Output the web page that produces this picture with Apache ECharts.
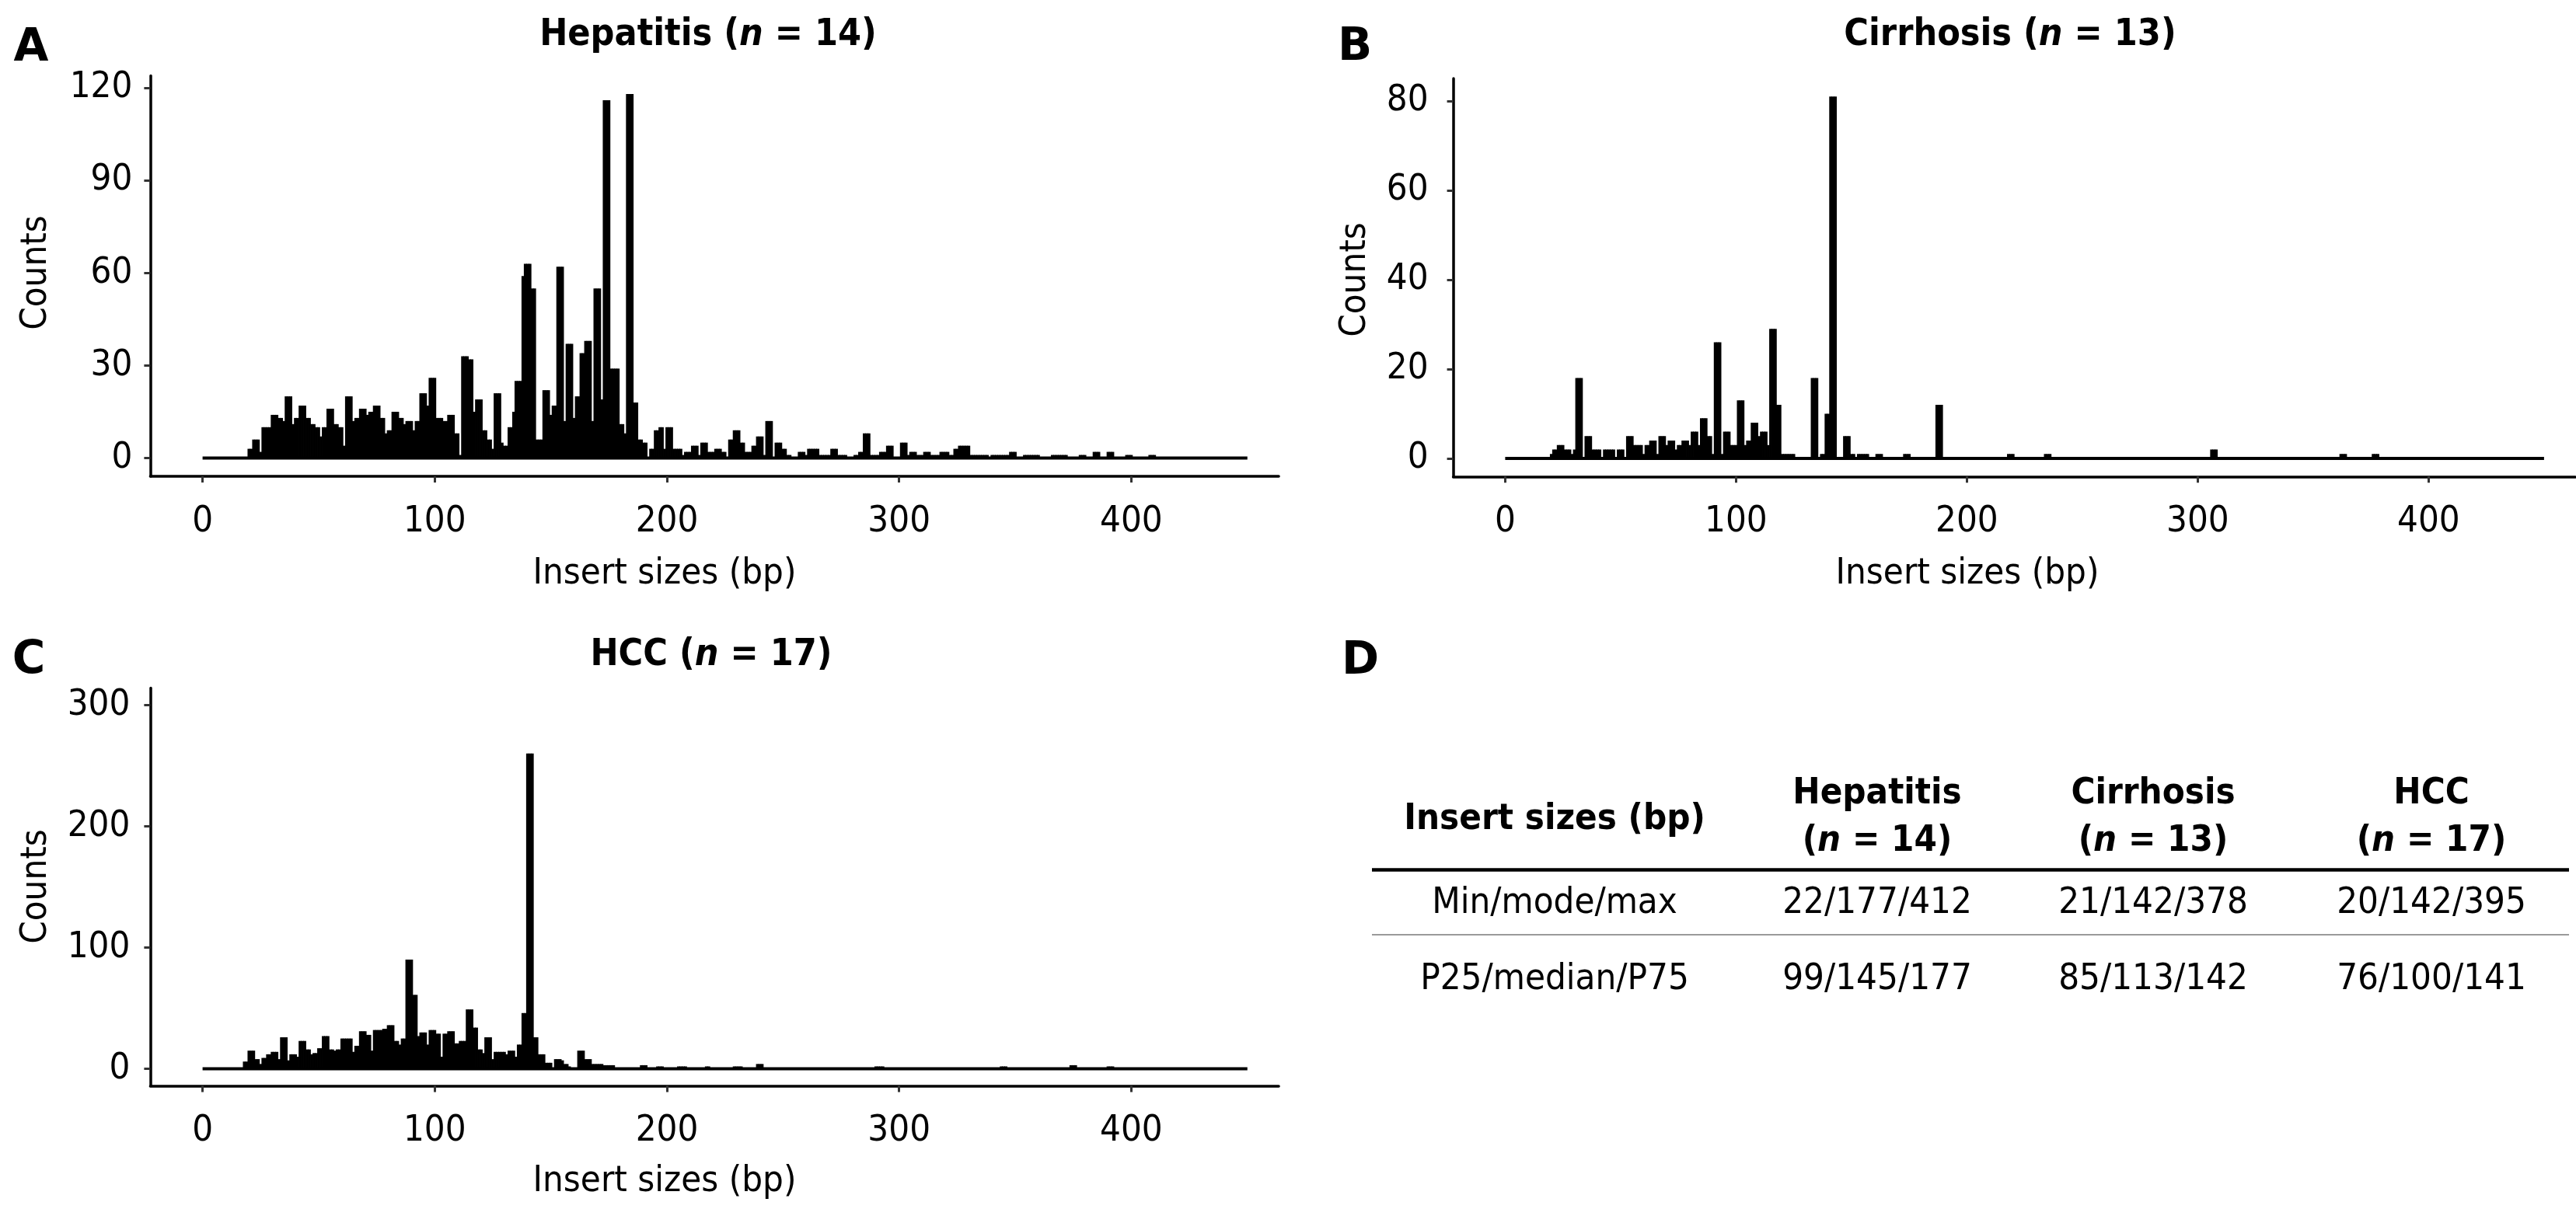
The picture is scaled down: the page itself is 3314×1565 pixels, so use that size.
<!DOCTYPE html>
<html>
<head>
<meta charset="utf-8">
<script src="https://cdn.jsdelivr.net/npm/echarts@6/dist/echarts.min.js"></script>
<style>
html,body{margin:0;padding:0;background:#fff;}
#chart{width:3314px;height:1565px;}
</style>
</head>
<body>
<div id="chart"></div>
<script>
// ---------------- DATA ----------------
const xTickValues = [0, 100, 200, 300, 400];
const baselineSpan = [0, 450];

const hepatitisTitle = 'Hepatitis', hepatitisN = 14;
const hepatitisStart = 20;
const hepatitisCounts = [3,3, 6,6,6, 2, 10,10,10,10, 14,14,14, 13,13, 12, 20,20,20, 11, 13,13, 17,17,17, 13,13, 11,11, 10,10, 7, 10,10, 16,16,16, 11,11, 10,10, 4, 20,20,20, 12, 13,13, 16,16,16, 14, 15,15, 17,17,17, 13,13, 8, 9,9, 15,15,15, 13,13, 11, 12,12,12, 9, 12,12, 21,21,21, 17, 26,26,26, 13,13,13, 12,12, 14,14,14, 8,8, 1, 33,33,33, 32,32, 15, 19,19,19, 9,9, 6,6, 3, 21,21,21, 5, 4,4, 10,10, 15, 25,25,25, 59, 63,63,63, 55,55, 6,6,6, 22,22,22, 14, 17,17, 62,62,62, 12, 37,37,37, 13, 20,20, 34,34, 38,38,38, 12, 55,55,55, 19, 116,116,116, 29,29,29,29, 11,11, 8, 118,118,118, 18,18, 6,6, 5,5, 0, 3,3, 9,9, 10,10, 3, 10,10,10, 3,3,3,3, 1, 2,2,2, 4,4,4, 1, 5,5,5, 2,2,2, 3,3,3, 2,2, 0, 6,6, 9,9,9, 5,5, 2,2,2, 4,4, 7,7,7, 1, 12,12,12, 0, 5,5,5, 3,3, 1,1, 0,0,0, 2,2,2, 1, 3,3,3,3,3, 1,1,1,1,1, 3,3,3, 1,1,1,1, 0,0,0, 1,1, 2,2, 8,8,8, 1,1,1,1, 2,2,2, 4,4,4, 0,0,0, 5,5,5, 1, 2,2,2, 1,1,1, 2,2,2, 1,1,1,1, 2,2,2,2, 1,1, 3,3, 4,4,4,4,4, 1,1,1,1,1,1,1,1, 0, 1,1,1,1,1,1,1,1, 2,2,2, 0,0,0, 1,1,1,1,1,1,1, 0,0,0,0,0, 1,1,1,1,1,1,1, 0,0,0,0,0, 1,1,1, 0,0,0, 2,2,2, 0,0,0, 2,2,2, 0,0,0,0,0, 1,1,1, 0,0,0,0,0,0,0, 1,1,1];
const hepatitisYTicks = [0, 30, 60, 90, 120];

const cirrhosisTitle = 'Cirrhosis', cirrhosisN = 13;
const cirrhosisStart = 20;
const cirrhosisCounts = [1, 2,2, 3,3,3, 2,2,2, 1, 2, 18,18,18, 0, 5,5,5, 2,2,2,2, 0, 2,2,2,2,2, 0, 2,2,2, 0, 5,5,5, 3,3,3,3, 1, 3,3, 4,4,4, 1, 5,5,5, 3, 4,4,4, 2, 3,3, 4,4,4, 3, 6,6,6, 3, 9,9,9, 5,5, 1, 26,26,26, 1, 6,6,6, 3,3,3, 13,13,13, 3, 4,4, 8,8,8, 5, 6,6,6, 3, 29,29,29, 12,12, 1,1,1,1,1,1, 0,0,0,0,0,0,0, 18,18,18, 0, 1,1, 10,10, 81,81,81, 0,0,0, 5,5,5, 1,1, 0, 1,1,1,1,1, 0,0,0, 1,1,1, 0,0,0,0,0,0,0,0,0, 1,1,1, 0,0,0,0,0,0,0,0,0,0,0, 12,12,12,
  0,0,0,0,0,0,0,0,0,0, 0,0,0,0,0,0,0,0,0,0, 0,0,0,0,0,0,0,0, 1,1,1,
  0,0,0,0,0,0,0,0,0,0, 0,0,0, 1,1,1,
  0,0,0,0,0,0,0,0,0,0, 0,0,0,0,0,0,0,0,0,0, 0,0,0,0,0,0,0,0,0,0, 0,0,0,0,0,0,0,0,0,0, 0,0,0,0,0,0,0,0,0,0, 0,0,0,0,0,0,0,0,0,0, 0,0,0,0,0,0,0,0,0, 2,2,2,
  0,0,0,0,0,0,0,0,0,0, 0,0,0,0,0,0,0,0,0,0, 0,0,0,0,0,0,0,0,0,0, 0,0,0,0,0,0,0,0,0,0, 0,0,0,0,0,0,0,0,0,0, 0,0,0, 1,1,1,
  0,0,0,0,0,0,0,0,0,0, 0, 1,1,1];
const cirrhosisYTicks = [0, 20, 40, 60, 80];

const hccTitle = 'HCC', hccN = 17;
const hccStart = 18;
const hccCounts = [6,6, 15,15,15, 8,8, 4, 9,9, 12,12, 14,14,14, 8, 26,26,26, 7, 12,12,12, 10, 23,23,23, 16,16, 12, 13,13, 17,17, 27,27,27, 16,16, 15, 16,16, 25,25,25,25,25, 14, 19,19, 31,31,31, 28,28, 15, 32,32,32,32, 33,33, 36,36,36, 23,23, 20, 25,25, 90,90,90, 61,61, 27, 30,30,30, 20, 32,32,32, 29,29, 10, 29,29, 31,31,31, 21,21, 23,23,23, 49,49,49, 34,34, 16,16, 13, 26,26,26, 8, 14,14,14,14,14, 12, 15,15,15, 10, 20,20, 46,46, 260,260,260, 26,26, 12,12,12, 5,5,5, 1, 8,8,8, 7, 4,4, 2, 1,1,1, 15,15,15, 8,8,8, 4,4,4,4,4, 3,3,3,3,3, 1,1,1,1,1, 0,0,0,0, 1,1, 3,3,3, 0,0,0,0, 2,2,2, 0, 1,1,1,1,1, 2,2,2,2, 0,0,0,0,0,0,0,0, 2,2, 1,1,1, 0,0,0,0,0,0,0, 2,2,2,2, 1,1,1,1,1, 0, 4,4,4, 0,0,0, 1,1,1,1,1, 0,0,0, 1,1,1, 0,0,0, 1,1,1,
  0,0,0,0,0,0,0,0,0,0, 0,0,0,0,0,0,0,0,0,0, 0, 1,1,1,1,1,1,1, 2,2,2,2, 1,1,1,1, 0,0,0,0, 1,1,1,1, 0,0, 1,1,1,1,
  0,0,0,0,0,0,0,0,0,0, 0,0,0,0,0,0,0,0,0,0, 1,1,1, 0,0,0,0,0,0,0, 1,1, 2,2,2, 0,0,0,0,0,0,0,0,0, 1,1,1, 0, 1,1,1,1, 0,0,0,0,0,0,0,0, 1,1, 3,3,3,
  0,0,0,0,0,0,0,0,0,0, 0,0,0, 2,2,2];
const hccYTicks = [0, 100, 200, 300];

const xAxisName = 'Insert sizes (bp)';
const yAxisName = 'Counts';
const panelLetters = ['A', 'B', 'C', 'D'];

const tableCorner = 'Insert sizes (bp)';
const tableGroups = ['Hepatitis', 'Cirrhosis', 'HCC'];
const tableGroupN = [14, 13, 17];
const tableRowLabels = ['Min/mode/max', 'P25/median/P75'];
const tableValues = [
  ['22/177/412', '21/142/378', '20/142/395'],
  ['99/145/177', '85/113/142', '76/100/141']
];

// ---------------- LAYOUT / STYLE ----------------
const FONT = "'DejaVu Sans Condensed', 'DejaVu Sans', sans-serif";
const FS = 47;
const X_MIN = -22.5, X_MAX = 463.5;

const panels = [
  {title: hepatitisTitle, n: hepatitisN, start: hepatitisStart, counts: hepatitisCounts, yTicks: hepatitisYTicks,
   x0: 260.6, ppb: 2.987, y0: 589.5, ppc: 3.97, ymin: -5.9, ymax: 123.9, labelGap: 23,
   titleX: 911, titleY: 46, letter: panelLetters[0], letterX: 40, letterY: 63,
   xNameX: 855, xNameY: 739, yNameX: 47, yNameY: 351},
  {title: cirrhosisTitle, n: cirrhosisN, start: cirrhosisStart, counts: cirrhosisCounts, yTicks: cirrhosisYTicks,
   x0: 1936.4, ppb: 2.97, y0: 590, ppc: 5.75, ymin: -4.05, ymax: 85.05, labelGap: 32,
   titleX: 2586, titleY: 46, letter: panelLetters[1], letterX: 1743, letterY: 62,
   xNameX: 2531, xNameY: 739, yNameX: 1744, yNameY: 360},
  {title: hccTitle, n: hccN, start: hccStart, counts: hccCounts, yTicks: hccYTicks,
   x0: 260.6, ppb: 2.987, y0: 1375.6, ppc: 1.561, ymin: -14.1, ymax: 314, labelGap: 26,
   titleX: 915, titleY: 844, letter: panelLetters[2], letterX: 37, letterY: 851,
   xNameX: 855, xNameY: 1521, yNameX: 47, yNameY: 1141}
];
const X_LABEL_OFFSET = 58.5;

const grids = [], xAxes = [], yAxes = [], series = [], graphics = [];

function renderBar(params, api) {
  const x = api.value(0), y = api.value(1);
  if (!y) return null;
  const p0 = api.coord([x - 0.5, 0]);
  const p1 = api.coord([x + 0.5, y]);
  return {
    type: 'rect',
    shape: {x: p0[0] - 0.4, y: p1[1], width: p1[0] - p0[0] + 0.8, height: p0[1] - p1[1]},
    style: {fill: '#000'}
  };
}

function textEl(x, y, text, opts) {
  opts = opts || {};
  const fs = opts.fs || FS;
  const align = opts.align || 'center';
  const style = {
    text: text, fontFamily: opts.family || FONT, fontSize: fs,
    fontWeight: opts.bold ? 'bold' : 'normal', fill: '#000',
    align: align, verticalAlign: 'middle', textAlign: align, textVerticalAlign: 'middle'
  };
  if (opts.rich) {
    style.rich = {i: {fontFamily: FONT, fontSize: fs, fontWeight: opts.bold ? 'bold' : 'normal', fontStyle: 'italic', fill: '#000'}};
  }
  const el = {type: 'text', x: x, y: y, silent: true, style: style};
  if (opts.rotation) el.rotation = opts.rotation;
  return el;
}

panels.forEach((p, i) => {
  p.left = p.x0 + X_MIN * p.ppb;
  p.width = (X_MAX - X_MIN) * p.ppb;
  p.top = p.y0 - p.ymax * p.ppc;
  p.height = (p.ymax - p.ymin) * p.ppc;
  grids.push({left: p.left, top: p.top, width: p.width, height: p.height, containLabel: false});
  const axisLine = {show: true, onZero: false, lineStyle: {color: '#000', width: 3.5}};
  xAxes.push({
    type: 'value', gridIndex: i, min: X_MIN, max: X_MAX,
    axisLine: axisLine, splitLine: {show: false},
    axisTick: {show: true, length: 8, lineStyle: {color: '#333', width: 3}, customValues: xTickValues},
    axisLabel: {show: false}
  });
  yAxes.push({
    type: 'value', gridIndex: i, min: p.ymin, max: p.ymax,
    axisLine: axisLine, splitLine: {show: false},
    axisTick: {show: true, length: 8, lineStyle: {color: '#333', width: 3}, customValues: p.yTicks},
    axisLabel: {show: false}
  });
  series.push({
    type: 'line', xAxisIndex: i, yAxisIndex: i, silent: true, symbol: 'none', z: 1,
    lineStyle: {color: '#000', width: 4}, data: [[baselineSpan[0], 0], [baselineSpan[1], 0]]
  });
  series.push({
    type: 'custom', xAxisIndex: i, yAxisIndex: i, silent: true, z: 2,
    renderItem: renderBar, encode: {x: 0, y: 1},
    data: p.counts.map((c, k) => [p.start + k, c])
  });
  graphics.push(textEl(p.titleX, p.titleY, p.title + ' ({i|n} = ' + p.n + ')', {bold: true, rich: true, fs: 48}));
  graphics.push(textEl(p.letterX, p.letterY, p.letter, {bold: true, fs: 58, family: "'DejaVu Sans', sans-serif"}));
  graphics.push(textEl(p.xNameX, p.xNameY, xAxisName));
  graphics.push(textEl(p.yNameX, p.yNameY, yAxisName, {rotation: Math.PI / 2}));
});

// ---- Panel D: table ----
graphics.push(textEl(1750, 852, panelLetters[3], {bold: true, fs: 58, family: "'DejaVu Sans', sans-serif"}));
const colX = [2000, 2415, 2770, 3128];
const tableLeft = 1765, tableRight = 3305;
graphics.push(textEl(colX[0], 1055, tableCorner, {bold: true}));
tableGroups.forEach((g, j) => {
  graphics.push(textEl(colX[j + 1], 1022, g, {bold: true}));
  graphics.push(textEl(colX[j + 1], 1083, '({i|n} = ' + tableGroupN[j] + ')', {bold: true, rich: true}));
});
graphics.push({type: 'line', silent: true, shape: {x1: tableLeft, y1: 1119.5, x2: tableRight, y2: 1119.5}, style: {stroke: '#000', lineWidth: 4.5}});
const rowY = [1163, 1261];
tableRowLabels.forEach((r, k) => {
  graphics.push(textEl(colX[0], rowY[k], r));
  tableValues[k].forEach((v, j) => graphics.push(textEl(colX[j + 1], rowY[k], v)));
});
graphics.push({type: 'line', silent: true, shape: {x1: tableLeft, y1: 1203, x2: tableRight, y2: 1203}, style: {stroke: '#9a9a9a', lineWidth: 2}});

const chart = echarts.init(document.getElementById('chart'), null, {renderer: 'canvas', width: 3314, height: 1565});
chart.setOption({
  backgroundColor: '#fff',
  animation: false,
  grid: grids,
  xAxis: xAxes,
  yAxis: yAxes,
  series: series
});

// Tick labels placed through the axes' own scales
panels.forEach((p, i) => {
  const bottom = p.top + p.height;
  xTickValues.forEach(v => {
    const pt = chart.convertToPixel({gridIndex: i}, [v, 0]);
    graphics.push(textEl(pt[0], bottom + X_LABEL_OFFSET, String(v)));
  });
  p.yTicks.forEach(v => {
    const pt = chart.convertToPixel({gridIndex: i}, [0, v]);
    graphics.push(textEl(p.left - p.labelGap, pt[1], String(v), {align: 'right'}));
  });
});
chart.setOption({graphic: {elements: graphics}});
</script>
</body>
</html>
